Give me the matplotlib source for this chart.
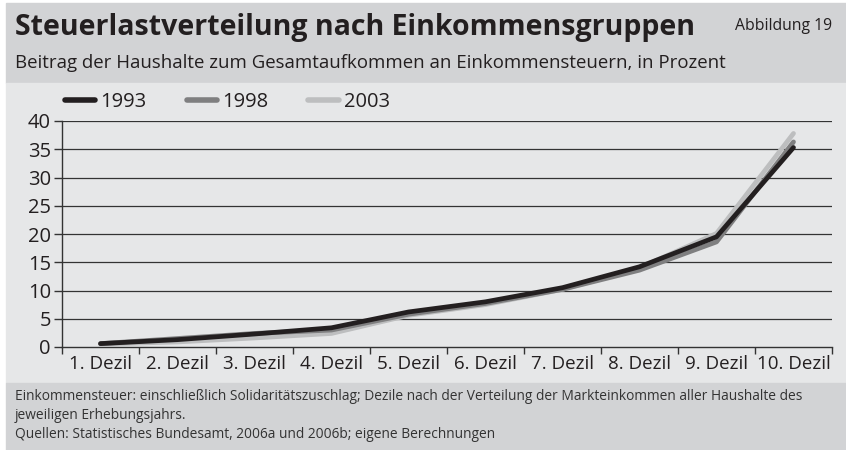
import matplotlib.pyplot as plt
from matplotlib.patches import Rectangle

deciles = ['1. Dezil', '2. Dezil', '3. Dezil', '4. Dezil', '5. Dezil',
           '6. Dezil', '7. Dezil', '8. Dezil', '9. Dezil', '10. Dezil']
share_1993 = [0.6, 1.3, 2.3, 3.4, 6.2, 8.0, 10.5, 14.2, 19.5, 35.3]
share_1998 = [0.6, 1.5, 2.4, 3.0, 5.8, 7.7, 10.2, 13.6, 18.6, 36.3]
share_2003 = [0.5, 0.9, 1.6, 2.4, 5.6, 7.5, 10.2, 14.0, 20.1, 37.8]

plt.rcParams['font.family'] = ['Open Sans', 'DejaVu Sans']
W, H = 846, 450
dark_text = '#231f20'

fig = plt.figure(figsize=(W / 100, H / 100), dpi=100)
fig.patch.set_facecolor('white')

def band(y0, y1, color):
    # y in pixels from the top
    fig.patches.append(Rectangle((6 / W, 1 - y1 / H), 1 - 6 / W, (y1 - y0) / H,
                                 transform=fig.transFigure, color=color, zorder=-5))

band(3, 83, '#d2d3d5')
band(83, 383, '#e6e7e8')
band(383, 450, '#d2d3d5')

fig.text(15 / W, 1 - 28 / H, 'Steuerlastverteilung nach Einkommensgruppen',
         fontsize=20.5, fontweight='bold', color=dark_text, va='center', ha='left')
fig.text(832 / W, 1 - 26 / H, 'Abbildung 19', fontsize=11.3, color=dark_text,
         va='center', ha='right')
fig.text(15 / W, 1 - 63 / H,
         'Beitrag der Haushalte zum Gesamtaufkommen an Einkommensteuern, in Prozent',
         fontsize=13.4, color=dark_text, va='center', ha='left')

footer = ['Einkommensteuer: einschließlich Solidaritätszuschlag; Dezile nach der Verteilung der Markteinkommen aller Haushalte des',
          'jeweiligen Erhebungsjahrs.',
          'Quellen: Statistisches Bundesamt, 2006a und 2006b; eigene Berechnungen']
for i, line in enumerate(footer):
    fig.text(15 / W, 1 - (397 + i * 18.5) / H, line, fontsize=9.9, color='#333333',
             va='center', ha='left')

ax = fig.add_axes([62 / W, 1 - 347 / H, (832 - 62) / W, (347 - 121) / H])
ax.set_facecolor('none')
ax.set_zorder(2)

x = list(range(len(deciles)))
ax.plot(x, share_2003, color='#bdbebf', lw=3.4, solid_capstyle='round', label='2003', zorder=3)
ax.plot(x, share_1998, color='#7f7f80', lw=3.4, solid_capstyle='round', label='1998', zorder=4)
ax.plot(x, share_1993, color=dark_text, lw=3.4, solid_capstyle='round', label='1993', zorder=5)

ax.set_xlim(-0.5, 9.5)
ax.set_ylim(0, 40)
ax.set_yticks(range(0, 41, 5))
for v in range(5, 41, 5):
    ax.axhline(v, color='#333333', lw=0.9, zorder=1)

ax.set_xticks(x)
ax.set_xticklabels(deciles)
ax.set_xticks([i + 0.5 for i in range(-1, 10)], minor=True)
ax.tick_params(axis='x', which='major', length=0, pad=6, labelsize=13.5, labelcolor=dark_text)
ax.tick_params(axis='x', which='minor', length=5, width=1, color='#333333', direction='out')
ax.tick_params(axis='y', length=6, width=1, color='#333333', pad=2, labelsize=14.5,
               labelcolor=dark_text)

for s in ['top', 'right']:
    ax.spines[s].set_visible(False)
ax.spines['left'].set_color('#333333')
ax.spines['bottom'].set_color('#333333')
ax.spines['left'].set_linewidth(1)
ax.spines['bottom'].set_linewidth(1)

handles, labels = ax.get_legend_handles_labels()
leg = ax.legend(handles[::-1], labels[::-1], ncol=3, loc='center left',
                bbox_to_anchor=(65 / W, 1 - 102 / H), bbox_transform=fig.transFigure,
                frameon=False, fontsize=14.5, handlelength=1.5, handletextpad=0.25,
                columnspacing=2.0, borderpad=0, borderaxespad=0)
for lh in leg.get_lines():
    lh.set_linewidth(4)
    lh.set_solid_capstyle('round')
for t in leg.get_texts():
    t.set_color(dark_text)

fig.savefig('out.png', dpi=100)
